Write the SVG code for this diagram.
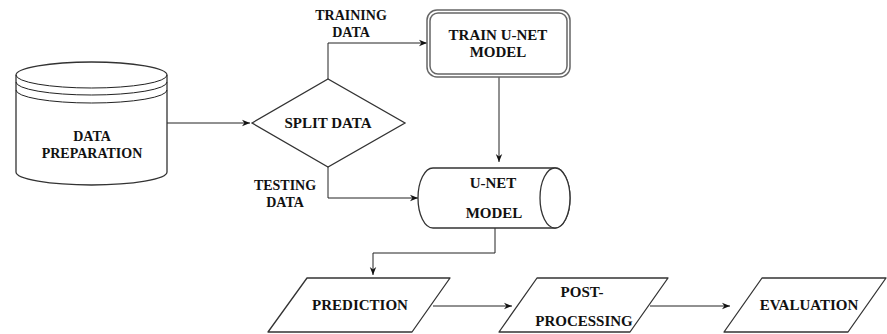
<svg xmlns="http://www.w3.org/2000/svg" width="887" height="334" viewBox="0 0 887 334">
<style>
text{fill:#111;text-anchor:middle}
.s{fill:#fff;stroke:#333;stroke-width:1.3}
.c{fill:none;stroke:#222;stroke-width:1}
.g{fill:none;stroke:#666;stroke-width:1.5}
.b{font-size:15px}
</style>
<defs>
<marker id="a" viewBox="0 0 10 10" refX="10" refY="5" markerWidth="8" markerHeight="8" markerUnits="userSpaceOnUse" orient="auto">
<path d="M0,1 L10,5 L0,9 L3,5 Z" fill="#111"/>
</marker>
</defs>
<rect width="887" height="334" fill="#fff"/>
<g id="connectors">
<path class="c" d="M167,123 H250" marker-end="url(#a)"/>
<path class="c" d="M328,79 V43 H427" marker-end="url(#a)"/>
<path class="c" d="M328,167 V198 H418" marker-end="url(#a)"/>
<path class="c" d="M499,77 V162" marker-end="url(#a)"/>
<path class="c" d="M495,228 V253 H373 V275" marker-end="url(#a)"/>
<path class="c" d="M433,306 H512" marker-end="url(#a)"/>
<path class="c" d="M650,306 H730" marker-end="url(#a)"/>
</g>
<g font-family="'Liberation Serif', serif" font-weight="bold" font-size="14">
<g id="data-preparation">
<path class="s" d="M16,75 V172 A75.5,13 0 0 0 167,172 V75 A75.5,13 0 0 0 16,75 Z"/>
<path class="c" stroke="#333" stroke-width="1.3" d="M16,75 A75.5,13 0 0 0 167,75"/>
<path class="c" stroke="#333" stroke-width="1.3" d="M16,82 A75.5,13 0 0 0 167,82"/>
<path class="c" stroke="#333" stroke-width="1.3" d="M16,90 A75.5,13 0 0 0 167,90"/>
<text x="92" y="141">DATA</text>
<text x="92" y="158">PREPARATION</text>
</g>
<g id="split-data">
<path class="s" stroke="#555" d="M252,123 L328,79 L405,123 L328,167 Z"/>
<text class="b" x="328" y="128">SPLIT DATA</text>
</g>
<g id="labels">
<text x="351" y="20">TRAINING</text>
<text x="351" y="37">DATA</text>
<text x="285" y="190">TESTING</text>
<text x="285" y="207">DATA</text>
</g>
<g id="train-unet">
<rect class="g" x="427" y="10" width="143" height="67" rx="10"/>
<rect class="g" x="430" y="13" width="137" height="61" rx="8"/>
<text class="b" x="498" y="40">TRAIN U-NET</text>
<text class="b" x="498" y="57">MODEL</text>
</g>
<g id="unet-model">
<path class="s" stroke="#111" d="M433,168 H555 A15,30 0 0 1 555,228 H433 A15,30 0 0 1 433,168 Z"/>
<ellipse class="s" stroke="#111" cx="555" cy="198" rx="15" ry="30"/>
<text class="b" x="493" y="188">U-NET</text>
<text class="b" x="494" y="218">MODEL</text>
</g>
<g id="prediction">
<path class="s" stroke="#111" d="M307,278 H450 L412,332 H268 Z" stroke-linejoin="round"/>
<text class="b" x="360" y="310">PREDICTION</text>
</g>
<g id="post-processing">
<path class="s" stroke="#111" d="M537,278 H668 L630,332 H499 Z" stroke-linejoin="round"/>
<text class="b" x="582" y="297">POST-</text>
<text class="b" x="584" y="326">PROCESSING</text>
</g>
<g id="evaluation">
<path class="s" stroke="#111" d="M762,278 H886 L848,332 H724 Z" stroke-linejoin="round"/>
<text class="b" x="809" y="310">EVALUATION</text>
</g>
</g>
</svg>
